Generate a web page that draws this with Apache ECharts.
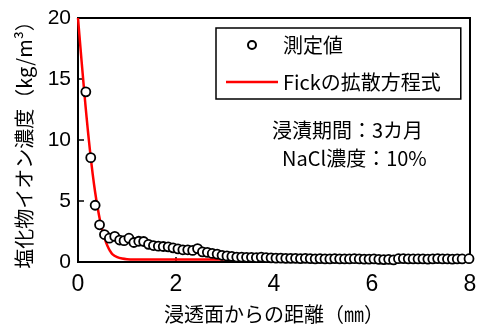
<!DOCTYPE html>
<html>
<head>
<meta charset="utf-8">
<script src="https://cdn.jsdelivr.net/npm/echarts@6/dist/echarts.min.js"></script>
<style>
html,body{margin:0;padding:0;background:#fff;}
#chart{width:481px;height:329px;}
</style>
</head>
<body>
<div id="chart"></div>
<script>
// Measured chloride concentration vs. distance from the exposed surface
const depthMeasured = [0.16, 0.26, 0.35, 0.44, 0.54, 0.64, 0.75, 0.85, 0.94, 1.04, 1.14, 1.24, 1.34, 1.44, 1.54,
  1.64, 1.74, 1.84, 1.94, 2.04, 2.14, 2.24, 2.34, 2.44, 2.54, 2.64, 2.74, 2.84, 2.94, 3.04,
  3.14, 3.24, 3.34, 3.44, 3.54, 3.64, 3.74, 3.84, 3.94, 4.04, 4.14, 4.24, 4.34, 4.44, 4.54,
  4.64, 4.74, 4.84, 4.94, 5.04, 5.14, 5.24, 5.34, 5.44, 5.54, 5.64, 5.74, 5.84, 5.94, 6.04,
  6.14, 6.24, 6.34, 6.44, 6.54, 6.64, 6.74, 6.84, 6.94, 7.04, 7.14, 7.24, 7.34, 7.44, 7.54,
  7.64, 7.74, 7.84, 7.98];
const conMeasured = [13.95, 8.55, 4.65, 3.05, 2.25, 1.95, 2.1, 1.8, 1.75, 1.95, 1.6, 1.7, 1.68, 1.45, 1.35,
  1.3, 1.27, 1.24, 1.16, 1.08, 1.0, 1.0, 0.95, 1.1, 0.83, 0.79, 0.7, 0.65, 0.55, 0.5,
  0.46, 0.4, 0.4, 0.38, 0.38, 0.36, 0.4, 0.36, 0.34, 0.32, 0.32, 0.3, 0.3, 0.3, 0.28,
  0.3, 0.28, 0.26, 0.28, 0.26, 0.25, 0.28, 0.26, 0.25, 0.25, 0.27, 0.25, 0.24, 0.24, 0.25,
  0.22, 0.2, 0.22, 0.17, 0.27, 0.28, 0.26, 0.25, 0.25, 0.26, 0.24, 0.25, 0.28, 0.25, 0.25,
  0.24, 0.25, 0.25, 0.27];

// Fitted profile (Fick's diffusion equation)
const depthFick = [0, 0.05, 0.1, 0.15, 0.2, 0.25, 0.3, 0.35, 0.4, 0.45, 0.5, 0.55, 0.6, 0.65, 0.7, 0.8, 0.9, 1.0, 1.2, 1.5, 2.0, 2.5, 3.0];
const conFick = [20, 17.58, 15.21, 12.95, 10.84, 8.93, 7.21, 5.72, 4.46, 3.4, 2.54, 1.86, 1.34, 0.94, 0.65, 0.4, 0.28, 0.23, 0.21, 0.2, 0.2, 0.2, 0.2];

const seriesNames = ['測定値', 'Fickの拡散方程式'];
const notes = ['浸漬期間：3カ月', 'NaCl濃度：10%'];
const xTicks = [0, 2, 4, 6, 8];
const yTicks = [0, 5, 10, 15, 20];

const pair = (xs, ys) => xs.map((x, i) => [x, ys[i]]);

const jp = '"Noto Sans CJK JP", "Noto Sans", sans-serif';
const narrow = '"Liberation Sans Narrow", "Liberation Sans", sans-serif';
const chart = echarts.init(document.getElementById('chart'), null, {renderer: 'canvas'});
chart.setOption({
  animation: false,
  backgroundColor: '#fff',
  grid: {left: 78, right: 11, top: 18, bottom: 64, show: true, borderColor: '#000', borderWidth: 2, backgroundColor: 'transparent'},
  xAxis: {
    type: 'value', min: xTicks[0], max: xTicks[xTicks.length - 1], interval: 2,
    name: '浸透面からの距離（㎜）', nameLocation: 'middle', nameGap: 42,
    nameTextStyle: {fontFamily: jp, fontSize: 20, color: '#000'},
    axisLine: {lineStyle: {color: '#000', width: 2}},
    axisTick: {inside: true, length: 5, lineStyle: {color: '#000', width: 1.5}},
    axisLabel: {fontFamily: narrow, fontSize: 23, color: '#000', margin: 11},
    splitLine: {show: false}
  },
  yAxis: {
    type: 'value', min: yTicks[0], max: yTicks[yTicks.length - 1], interval: 5,
    name: '塩化物イオン濃度（kg/m³）', nameLocation: 'middle', nameGap: 44,
    nameTextStyle: {fontFamily: jp, fontSize: 20, color: '#000'},
    axisLine: {lineStyle: {color: '#000', width: 2}},
    axisTick: {inside: true, length: 6, lineStyle: {color: '#000', width: 1.5}},
    axisLabel: {fontFamily: narrow, fontSize: 21, color: '#000', margin: 7},
    splitLine: {show: false}
  },
  legend: {
    left: 216, top: 28, orient: 'vertical',
    padding: [7, 20, 7, 10], itemGap: 17, itemWidth: 52, itemHeight: 8,
    borderColor: '#000', borderWidth: 1.5, backgroundColor: '#fff',
    textStyle: {fontFamily: jp, fontSize: 20, color: '#000'},
    data: [
      {name: seriesNames[0], icon: 'circle', itemStyle: {color: '#fff', borderColor: '#000', borderWidth: 2}},
      {name: seriesNames[1], icon: 'path://M0,0L52,0L52,2.5L0,2.5Z'}
    ]
  },
  graphic: [
    {type: 'text', x: 272, y: 130, style: {text: notes[0], font: '20px ' + jp, fill: '#000', verticalAlign: 'middle'}},
    {type: 'text', x: 282, y: 158, style: {text: notes[1], font: '20px ' + jp, fill: '#000', verticalAlign: 'middle'}}
  ],
  series: [
    {
      name: seriesNames[1], type: 'line', data: pair(depthFick, conFick),
      smooth: 0.3, showSymbol: false, z: 2,
      lineStyle: {color: '#ff0000', width: 2.5}, itemStyle: {color: '#ff0000'}
    },
    {
      name: seriesNames[0], type: 'scatter', data: pair(depthMeasured, conMeasured),
      symbol: 'circle', symbolSize: 9, z: 3,
      itemStyle: {color: '#fff', borderColor: '#000', borderWidth: 1.8, opacity: 1}
    }
  ]
});
</script>
</body>
</html>
